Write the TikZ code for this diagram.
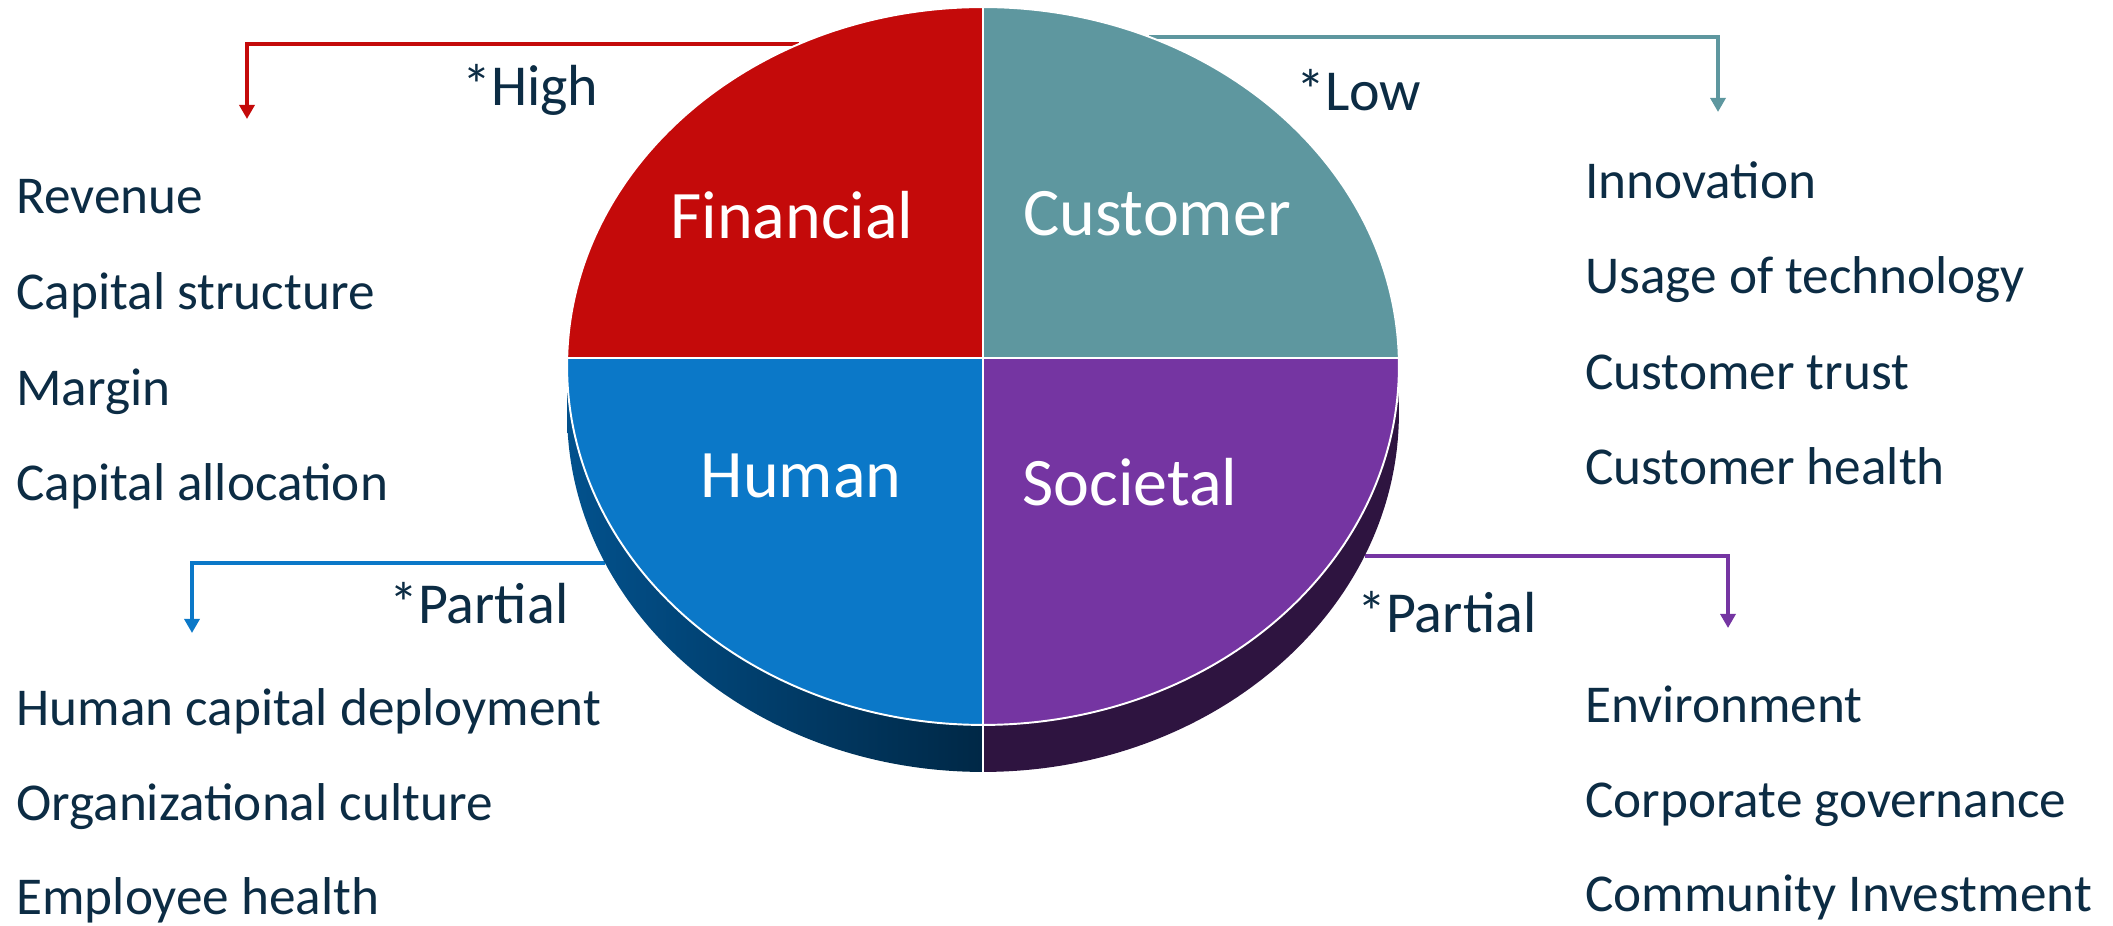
\documentclass[tikz,border=0pt]{standalone}
\usepackage{fontspec}
\setmainfont{Carlito}
\usepackage{tikz}
\usetikzlibrary{arrows.meta}

\definecolor{finred}{RGB}{196,10,10}
\definecolor{custteal}{RGB}{94,151,159}
\definecolor{humblue}{RGB}{11,120,200}
\definecolor{socpurple}{RGB}{117,53,162}
\definecolor{sideblueA}{RGB}{2,82,142}
\definecolor{sideblueB}{RGB}{0,40,70}
\definecolor{sidepurple}{RGB}{46,20,64}
\definecolor{inknavy}{RGB}{12,44,68}

\begin{document}
\begin{tikzpicture}[x=0.02cm,y=-0.02cm]

\tikzset{item/.style = {anchor=base west,inner sep=0pt,text=inknavy,font=\fontsize{30.3}{35}\selectfont}}
\tikzset{rating/.style = {anchor=base west,inner sep=0pt,text=inknavy,font=\fontsize{33}{38}\selectfont}}
\tikzset{sector/.style = {anchor=base,inner sep=0pt,text=white,font=\fontsize{38.7}{44}\selectfont}}
\tikzset{edge/.style = {line width=2.6pt,-{Triangle[width=8.5pt,length=8pt]}}}

\useasboundingbox (0,0) rectangle (2113,926);

% arrow ends
\coordinate (f0) at (799,44);
\coordinate (f1) at (247,119);
\coordinate (c0) at (1149,37);
\coordinate (c1) at (1718,112);
\coordinate (h0) at (605,563);
\coordinate (h1) at (192,633);
\coordinate (s0) at (1365,556);
\coordinate (s1) at (1728,628);

\draw[edge,finred] (f0) -| (f1);
\draw[edge,custteal] (c0) -| (c1);
\draw[edge,humblue] (h0) -| (h1);
\draw[edge,socpurple] (s0) -| (s1);

% side of the disc
\begin{scope}
\clip (983,413) ellipse [x radius=8.32cm, y radius=7.18cm];
\shade[left color=sideblueA, right color=sideblueB] (560,366) rectangle (983,780);
\fill[sidepurple] (983,366) rectangle (1410,780);
\end{scope}

% top of the disc
\begin{scope}
\clip (983,366) ellipse [x radius=8.32cm, y radius=7.18cm];
\fill[finred] (560,0) rectangle (983,358);
\fill[custteal] (983,0) rectangle (1410,358);
\fill[humblue] (560,358) rectangle (983,730);
\fill[socpurple] (983,358) rectangle (1410,730);
\end{scope}
\draw[white,line width=1.1pt] (983,366) ellipse [x radius=8.32cm, y radius=7.18cm];
\draw[white,line width=1.1pt] (567,358) -- (1399,358);
\draw[white,line width=1.1pt] (983,7) -- (983,772);

\node[sector] (fin) at (792,238) {Financial};
\node[sector] (cus) at (1157,235) {Customer};
\node[sector] (hum) at (801,497) {Human};
\node[sector] (soc) at (1130,505) {Societal};

\node[rating] (rf) at (462,106) {*High};
\node[rating] (rc) at (1296,111) {*Low};
\node[rating] (rh) at (389,623) {*Partial};
\node[rating] (rs) at (1357,632) {*Partial};

\node[item] (a1) at (16,213) {Revenue};
\node[item] (a2) at (16,309) {Capital structure};
\node[item] (a3) at (16,405) {Margin};
\node[item] (a4) at (16,500) {Capital allocation};

\node[item] (b1) at (1585,198) {Innovation};
\node[item] (b2) at (1585,293) {Usage of technology};
\node[item] (b3) at (1585,389) {Customer trust};
\node[item] (b4) at (1585,484) {Customer health};

\node[item] (d1) at (16,725) {Human capital deployment};
\node[item] (d2) at (16,820) {Organizational culture};
\node[item] (d3) at (16,914) {Employee health};

\node[item] (e1) at (1585,722) {Environment};
\node[item] (e2) at (1585,817) {Corporate governance};
\node[item] (e3) at (1585,911) {Community Investment};

\end{tikzpicture}
\end{document}
